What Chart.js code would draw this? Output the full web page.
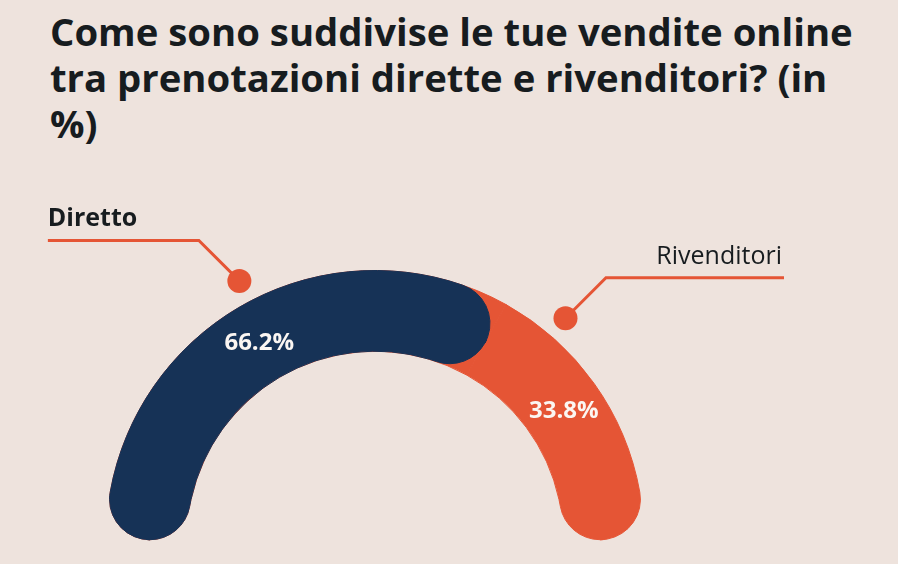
<!DOCTYPE html>
<html lang="it">
<head>
<meta charset="utf-8">
<title>Vendite online: diretto vs rivenditori</title>
<script src="https://cdn.jsdelivr.net/npm/chart.js@4.4.1/dist/chart.umd.min.js"></script>
<style>
    html, body { margin: 0; padding: 0; background: #EEE3DD; }
    #wrap { position: relative; width: 898px; height: 564px; overflow: hidden; }
    h1 {
        position: absolute; left: 50px; top: 8px; width: 815px; margin: 0;
        font: 700 38.3px/46px "Open Sans", sans-serif; color: #171c1f;
    }
    .layer { position: absolute; left: 0; top: 0; width: 898px; height: 564px; }
</style>
</head>
<body>
<div id="wrap">
    <h1>Come sono suddivise le tue vendite online tra prenotazioni dirette e rivenditori? (in %)</h1>
    <div class="layer"><canvas id="backChart"></canvas></div>
    <div class="layer"><canvas id="frontChart"></canvas></div>
</div>
<script>
const categories = ['Diretto', 'Rivenditori'];
const shares = [66.2, 33.8];
const valueLabels = ['66.2%', '33.8%'];

const NAVY = '#163256';
const ORANGE = '#E55535';
const TEXT = '#171c1f';

// stessa area per i due grafici sovrapposti
const sharedOptions = {
    responsive: true,
    maintainAspectRatio: false,
    animation: false,
    events: [],
    rotation: -90,
    circumference: 180,
    cutout: '70%',
    layout: { padding: { left: 105, right: 253, top: 270, bottom: 24 } },
    plugins: { legend: { display: false }, tooltip: { enabled: false } }
};

// etichette percentuali e richiami con pallino
const calloutPlugin = {
    id: 'callouts',
    afterDatasetsDraw(chart, args, opts) {
        const ctx = chart.ctx;
        const meta = chart.getDatasetMeta(0);
        ctx.save();
        meta.data.forEach((arc, i) => {
            const { x, y, startAngle, endAngle, innerRadius, outerRadius } =
                arc.getProps(['x', 'y', 'startAngle', 'endAngle', 'innerRadius', 'outerRadius'], true);
            const span = endAngle - startAngle;

            // valore dentro l'arco
            const la = startAngle + span * opts.labelAt[i];
            const lr = (innerRadius + outerRadius) / 2;
            ctx.fillStyle = '#fbf6f2';
            ctx.font = '700 24px "Open Sans"';
            ctx.textAlign = 'center';
            ctx.textBaseline = 'middle';
            ctx.fillText(valueLabels[i], x + Math.cos(la) * lr, y + Math.sin(la) * lr + 1);

            // richiamo
            const ca = startAngle + span * opts.dotAt[i];
            const cr = outerRadius + opts.dotGap;
            const px = x + Math.cos(ca) * cr;
            const py = y + Math.sin(ca) * cr;
            const side = Math.cos(ca) < 0 ? -1 : 1;
            const ex = px + side * opts.elbow;
            const ey = py - opts.elbow;
            const hx = ex + side * opts.run[i];

            ctx.strokeStyle = ORANGE;
            ctx.lineWidth = 3;
            ctx.lineJoin = 'miter';
            ctx.beginPath();
            ctx.moveTo(px, py);
            ctx.lineTo(ex, ey);
            ctx.lineTo(hx, ey);
            ctx.stroke();

            ctx.fillStyle = ORANGE;
            ctx.beginPath();
            ctx.arc(px, py, 12, 0, Math.PI * 2);
            ctx.fill();

            ctx.fillStyle = TEXT;
            ctx.font = opts.weight[i] + ' 25px "Open Sans"';
            ctx.textBaseline = 'alphabetic';
            ctx.textAlign = side < 0 ? 'left' : 'right';
            ctx.fillText(categories[i], hx + (side < 0 ? 0 : -2), ey - 14);
        });
        ctx.restore();
    }
};

function buildCharts() {
    // sotto: banda arancione continua, così il tappo blu poggia sull'arancione
    new Chart(document.getElementById('backChart'), {
        type: 'doughnut',
        data: {
            labels: categories,
            datasets: [{
                data: shares,
                backgroundColor: [ORANGE, ORANGE],
                borderColor: ORANGE,
                borderWidth: 1,
                borderRadius: ctx => ctx.dataIndex === 0
                    ? { outerStart: 60, innerStart: 60, outerEnd: 0, innerEnd: 0 }
                    : { outerStart: 0, innerStart: 0, outerEnd: 60, innerEnd: 60 }
            }]
        },
        options: sharedOptions
    });

    // sopra: segmento blu arrotondato, più etichette
    new Chart(document.getElementById('frontChart'), {
        type: 'doughnut',
        data: {
            labels: categories,
            datasets: [{
                data: shares,
                backgroundColor: [NAVY, 'rgba(0,0,0,0)'],
                borderColor: [NAVY, 'rgba(0,0,0,0)'],
                borderWidth: 1,
                borderRadius: 60
            }]
        },
        options: {
            ...sharedOptions,
            plugins: {
                ...sharedOptions.plugins,
                callouts: {
                    labelAt: [0.5, 0.436],
                    dotAt: [0.523, 0.19],
                    dotGap: 23,
                    elbow: 40.5,
                    run: [151, 178],
                    weight: ['700', '400']
                }
            }
        },
        plugins: [calloutPlugin]
    });
}

Promise.all([
    document.fonts.load('700 25px "Open Sans"'),
    document.fonts.load('400 25px "Open Sans"')
]).then(buildCharts, buildCharts);
</script>
</body>
</html>
